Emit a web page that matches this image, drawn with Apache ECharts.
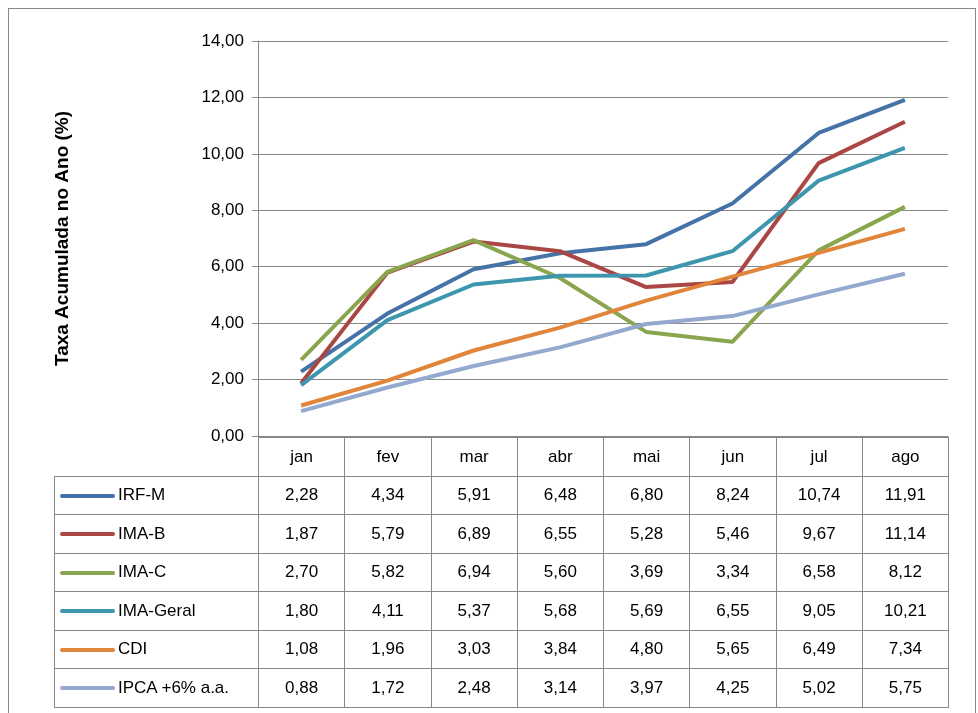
<!DOCTYPE html>
<html><head><meta charset="utf-8">
<script src="https://cdn.jsdelivr.net/npm/echarts@6/dist/echarts.min.js"></script>
<style>
body{margin:0;background:#fff;font-family:"Liberation Sans",Arial,sans-serif}
#frame{position:absolute;left:8px;top:8px;width:968px;height:720px;border:1px solid #888;box-sizing:border-box}
#chart{position:absolute;left:0;top:0;width:978px;height:713px}
#tbl{position:absolute;left:54px;top:437px;border-collapse:collapse;font-size:17px;color:#000}
#tbl td{border:1px solid #888;height:38.5px;padding:0;text-align:center;box-sizing:border-box}
#tbl td.n{text-align:left;padding-left:5px;white-space:nowrap}
#tbl td.blank{border:none;border-right:1px solid #888}
.key{display:inline-block;width:55px;height:4px;border-radius:2px;vertical-align:middle;margin-right:3px}
</style></head><body>
<div id="frame"></div>
<div id="chart"></div>
<table id="tbl"></table>
<script>
var months = ['jan', 'fev', 'mar', 'abr', 'mai', 'jun', 'jul', 'ago'];
var names = ['IRF-M', 'IMA-B', 'IMA-C', 'IMA-Geral', 'CDI', 'IPCA +6% a.a.'];
var colors = ['#4572a7', '#aa4643', '#89a54e', '#3d96ae', '#e1853a', '#93a9cf'];
var irfm = [2.28, 4.34, 5.91, 6.48, 6.80, 8.24, 10.74, 11.91];
var imab = [1.87, 5.79, 6.89, 6.55, 5.28, 5.46, 9.67, 11.14];
var imac = [2.70, 5.82, 6.94, 5.60, 3.69, 3.34, 6.58, 8.12];
var imaGeral = [1.80, 4.11, 5.37, 5.68, 5.69, 6.55, 9.05, 10.21];
var cdi = [1.08, 1.96, 3.03, 3.84, 4.80, 5.65, 6.49, 7.34];
var ipca = [0.88, 1.72, 2.48, 3.14, 3.97, 4.25, 5.02, 5.75];
var values = [irfm, imab, imac, imaGeral, cdi, ipca];

function fmt(v) { return v.toFixed(2).replace('.', ','); }

var chart = echarts.init(document.getElementById('chart'));
chart.setOption({
  animation: false,
  grid: { left: 258, right: 30, top: 41, bottom: 277 },
  xAxis: {
    type: 'category', data: months, boundaryGap: true,
    axisLabel: { show: false }, axisTick: { show: false },
    axisLine: { lineStyle: { color: '#888' } }
  },
  yAxis: {
    type: 'value', min: 0, max: 14, interval: 2,
    name: 'Taxa Acumulada no Ano (%)', nameLocation: 'middle', nameGap: 186,
    nameTextStyle: { fontSize: 19, fontWeight: 'bold', color: '#000', fontFamily: 'Liberation Sans' },
    axisLine: { show: true, lineStyle: { color: '#888' } },
    axisTick: { show: true, length: 6, lineStyle: { color: '#888' } },
    axisLabel: { formatter: fmt, fontSize: 17, color: '#000', margin: 14, fontFamily: 'Liberation Sans' },
    splitLine: { lineStyle: { color: '#888' } }
  },
  series: names.map(function (n, i) {
    return { name: n, type: 'line', data: values[i], symbol: 'none',
      lineStyle: { width: 4, color: colors[i] }, itemStyle: { color: colors[i] } };
  })
});

var tbl = document.getElementById('tbl');
var html = '<tr><td class="blank" style="width:204px"></td>';
months.forEach(function (m) { html += '<td style="width:86.25px">' + m + '</td>'; });
html += '</tr>';
names.forEach(function (n, i) {
  html += '<tr><td class="n"><span class="key" style="background:' + colors[i] + '"></span>' + n + '</td>';
  values[i].forEach(function (v) { html += '<td>' + fmt(v) + '</td>'; });
  html += '</tr>';
});
tbl.innerHTML = html;
</script>
</body></html>
